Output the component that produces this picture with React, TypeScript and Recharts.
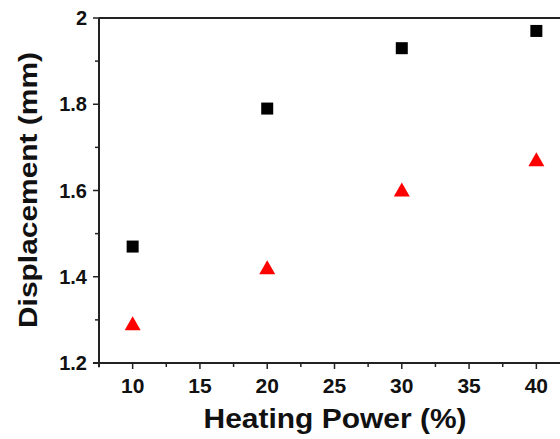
import React from 'react';
import { ScatterChart, Scatter, XAxis, YAxis, ReferenceLine, Label } from 'recharts';

const POWER = [10, 20, 30, 40];
const SERIES_A = [1.47, 1.79, 1.93, 1.97];
const SERIES_B = [1.29, 1.42, 1.6, 1.67];
const X_TICKS = [10, 12.5, 15, 17.5, 20, 22.5, 25, 27.5, 30, 32.5, 35, 37.5, 40];
const Y_TICKS = [1.2, 1.3, 1.4, 1.5, 1.6, 1.7, 1.8, 1.9, 2];

const dataA = POWER.map((x, i) => ({ x, y: SERIES_A[i] }));
const dataB = POWER.map((x, i) => ({ x, y: SERIES_B[i] }));

const FONT = '"Liberation Sans", Arial, sans-serif';
const AXIS = '#222';

const XTick = (props: any) => {
  const { x, y, payload } = props;
  const major = payload.value % 5 === 0;
  return (
    <g>
      <line x1={x} x2={x} y1={y} y2={y + (major ? 6 : 4)} stroke={AXIS} strokeWidth={1.5} />
      {major && (
        <text x={x} y={y + 30} textAnchor="middle" fontFamily={FONT} fontWeight="bold" fontSize={21} fill="#111">
          {payload.value}
        </text>
      )}
    </g>
  );
};

const YTick = (props: any) => {
  const { x, y, payload } = props;
  const major = Math.round(payload.value * 10) % 2 === 0;
  return (
    <g>
      <line x1={x} x2={x - (major ? 6 : 4)} y1={y} y2={y} stroke={AXIS} strokeWidth={1.5} />
      {major && (
        <text x={x - 12} y={y + 7} textAnchor="end" fontFamily={FONT} fontWeight="bold" fontSize={20} fill="#111">
          {String(payload.value)}
        </text>
      )}
    </g>
  );
};

const Square = (props: any) => {
  const { cx, cy } = props;
  return <rect x={cx - 6} y={cy - 6} width={12} height={12} fill="#000" />;
};

const Triangle = (props: any) => {
  const { cx, cy } = props;
  return <polygon points={`${cx},${cy - 8} ${cx + 8},${cy + 6} ${cx - 8},${cy + 6}`} fill="#ff0000" />;
};

export default function App() {
  return (
    <div style={{ position: 'absolute', left: 0, top: 0, width: 560, height: 439, overflow: 'hidden', background: '#fff' }}>
      <ScatterChart width={580} height={439} margin={{ top: 18, right: 10, bottom: 0, left: 0 }}>
        <XAxis
          type="number"
          dataKey="x"
          domain={[7.5, 42.5]}
          ticks={X_TICKS}
          interval={0}
          tickSize={0}
          tickMargin={0}
          tickLine={false}
          tick={<XTick />}
          axisLine={{ stroke: AXIS, strokeWidth: 2 }}
          height={76}
        >
          <Label
            content={() => (
              <text x={335} y={428} textAnchor="middle" fontFamily={FONT} fontWeight="bold" fontSize={27} fill="#111"
                textLength={263} lengthAdjust="spacingAndGlyphs">
                Heating Power (%)
              </text>
            )}
          />
        </XAxis>
        <YAxis
          type="number"
          dataKey="y"
          domain={[1.2, 2]}
          ticks={Y_TICKS}
          interval={0}
          tickSize={0}
          tickMargin={0}
          tickLine={false}
          tick={<YTick />}
          axisLine={{ stroke: AXIS, strokeWidth: 2 }}
          width={99}
        >
          <Label
            content={() => (
              <text x={0} y={0} transform="translate(37,190) rotate(-90)" textAnchor="middle" fontFamily={FONT}
                fontWeight="bold" fontSize={26} fill="#111" textLength={276} lengthAdjust="spacingAndGlyphs">
                Displacement (mm)
              </text>
            )}
          />
        </YAxis>
        <ReferenceLine y={2} stroke={AXIS} strokeWidth={2} />
        <ReferenceLine segment={[{ x: 7.05, y: 1.2 }, { x: 7.5, y: 1.2 }]} stroke={AXIS} strokeWidth={2} ifOverflow="visible" />
        <ReferenceLine segment={[{ x: 7.5, y: 1.2 }, { x: 7.5, y: 1.19 }]} stroke={AXIS} strokeWidth={2} ifOverflow="visible" />
        <Scatter data={dataA} shape={<Square />} isAnimationActive={false} />
        <Scatter data={dataB} shape={<Triangle />} isAnimationActive={false} />
      </ScatterChart>
    </div>
  );
}
